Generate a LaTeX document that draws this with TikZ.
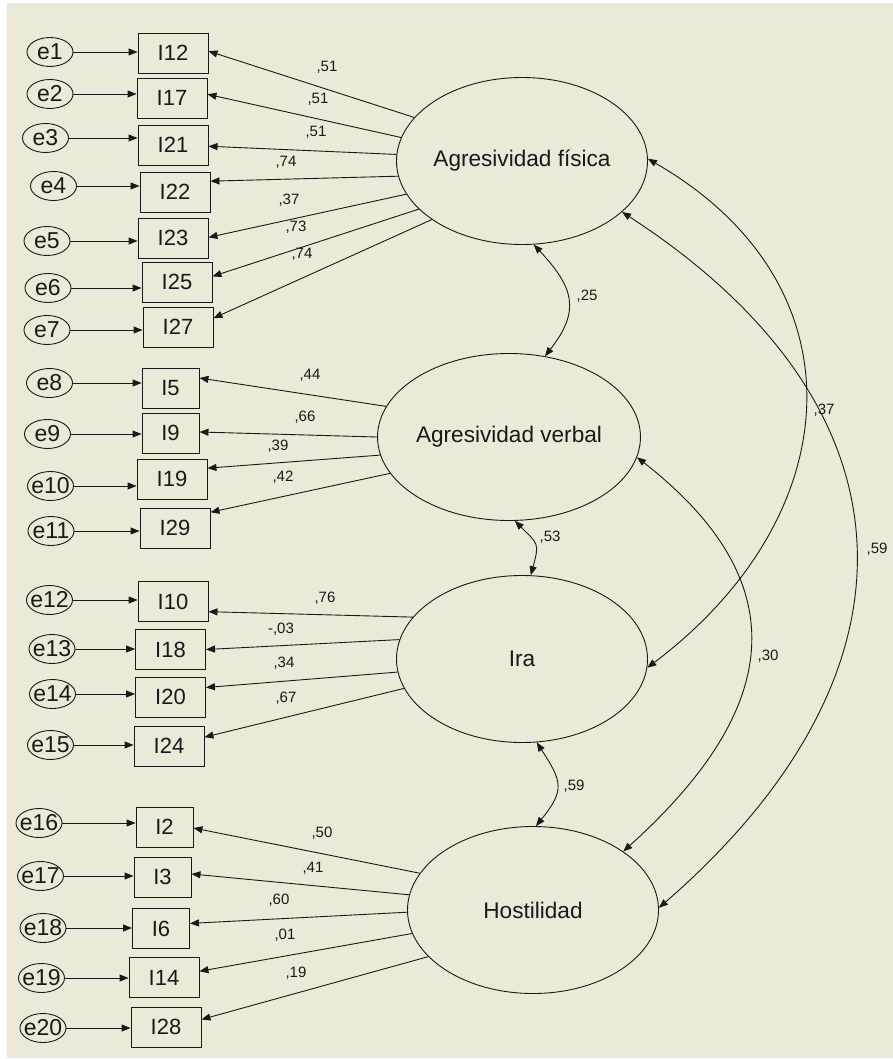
\documentclass[tikz,border=0pt]{standalone}
\usepackage{fontspec}
\setmainfont{Liberation Sans}
\usetikzlibrary{arrows.meta,shapes.geometric}
\definecolor{panel}{RGB}{236,233,216}
\definecolor{ink}{RGB}{25,25,25}

\begin{document}
\begin{tikzpicture}[x=1pt,y=1pt,
  every node/.style={inner sep=0pt,text=ink},
  latent/.style={ellipse,draw=ink,line width=0.9pt,minimum width=251pt,minimum height=167pt,font=\fontsize{22.6}{22.6}\selectfont},
  item/.style={rectangle,draw=ink,line width=0.9pt,minimum height=40pt,font=\fontsize{22}{22}\selectfont},
  wide/.style={item,minimum width=70pt},
  narrow/.style={item,minimum width=57pt},
  err/.style={ellipse,draw=ink,line width=0.9pt,minimum width=46pt,minimum height=29pt,font=\fontsize{23}{23}\selectfont},
  coef/.style={font=\fontsize{15}{15}\selectfont},
  arr/.style={draw=ink,line width=0.9pt,-{Triangle[length=9pt,width=7pt]}},
  cov/.style={draw=ink,line width=0.9pt,{Triangle[length=9pt,width=7pt]}-{Triangle[length=9pt,width=7pt]}},
]
\useasboundingbox (0,0) rectangle (893,-1059);
\fill[white] (0,0) rectangle (893,-1059);
\fill[panel] (7,-3) rectangle (893,-1058);

% latent factors
\node[latent] (AF) at (522,-161) {Agresividad física};
\node[latent] (AV) at (509,-437) {Agresividad verbal};
\node[latent] (Ira) at (522,-659) {Ira};
\node[latent] (Host) at (533,-910) {Hostilidad};

% observed items
\node[wide] (I12) at (173,-53) {I12};
\node[wide] (I17) at (172,-98) {I17};
\node[wide] (I21) at (173,-145) {I21};
\node[wide] (I22) at (175,-192) {I22};
\node[wide] (I23) at (173,-238) {I23};
\node[wide] (I25) at (177,-282) {I25};
\node[wide] (I27) at (178,-327) {I27};
\node[narrow] (I5) at (170.5,-388) {I5};
\node[narrow] (I9) at (170.5,-433) {I9};
\node[wide] (I19) at (172,-479) {I19};
\node[wide] (I29) at (175,-528) {I29};
\node[wide] (I10) at (173,-601.5) {I10};
\node[wide] (I18) at (170.5,-649.5) {I18};
\node[wide] (I20) at (170.5,-697) {I20};
\node[wide] (I24) at (169,-746) {I24};
\node[narrow] (I2) at (164.5,-827) {I2};
\node[narrow] (I3) at (162.5,-877) {I3};
\node[narrow] (I6) at (161,-928.5) {I6};
\node[wide] (I14) at (164,-977.5) {I14};
\node[wide] (I28) at (166,-1027) {I28};

% error terms
\node[err] (e1) at (50,-52) {\makebox[0pt]{e1}};
\node[err] (e2) at (50,-94) {\makebox[0pt]{e2}};
\node[err] (e3) at (45.5,-138) {\makebox[0pt]{e3}};
\node[err] (e4) at (53.5,-186) {\makebox[0pt]{e4}};
\node[err] (e5) at (47,-241) {\makebox[0pt]{e5}};
\node[err] (e6) at (48,-288) {\makebox[0pt]{e6}};
\node[err] (e7) at (47,-330) {\makebox[0pt]{e7}};
\node[err] (e8) at (49.5,-383) {\makebox[0pt]{e8}};
\node[err] (e9) at (47.5,-434) {\makebox[0pt]{e9}};
\node[err] (e10) at (50.5,-486) {\makebox[0pt]{e10}};
\node[err] (e11) at (51,-531) {\makebox[0pt]{e11}};
\node[err] (e12) at (49.5,-600) {\makebox[0pt]{e12}};
\node[err] (e13) at (52,-649) {\makebox[0pt]{e13}};
\node[err] (e14) at (52.5,-694) {\makebox[0pt]{e14}};
\node[err] (e15) at (50.5,-745) {\makebox[0pt]{e15}};
\node[err] (e16) at (39,-823) {\makebox[0pt]{e16}};
\node[err] (e17) at (40.5,-876) {\makebox[0pt]{e17}};
\node[err] (e18) at (43,-928) {\makebox[0pt]{e18}};
\node[err] (e19) at (41.5,-978) {\makebox[0pt]{e19}};
\node[err] (e20) at (43,-1028) {\makebox[0pt]{e20}};

% error -> item
\foreach \e/\i in {e1/I12,e2/I17,e3/I21,e4/I22,e5/I23,e6/I25,e7/I27,
                   e8/I5,e9/I9,e10/I19,e11/I29,
                   e12/I10,e13/I18,e14/I20,e15/I24,
                   e16/I2,e17/I3,e18/I6,e19/I14,e20/I28}
  \draw[arr] (\e.east) -- (\e.east -| \i.west);

% factor loadings
\foreach \f/\a/\i/\b in {AF/158/I12/3.3, AF/169/I17/6.5, AF/177/I21/358, AF/187/I22/17.4,
                         AF/196/I23/1.6, AF/205/I25/9.7, AF/213.5/I27/14.4,
                         AV/166/I5/19.3, AV/180/I9/2, AV/188/I19/17.4, AV/197/I29/24.6,
                         Ira/159/I10/344.8, Ira/171.6/I18/0, Ira/186.4/I20/15.9, Ira/194.8/I24/14.4,
                         Host/162/I2/358, Host/173/I3/6, Host/181/I6/10.9, Host/191/I14/10.5, Host/204.6/I28/12.9}
  \draw[arr] (\f.\a) -- (\i.\b);

% loading estimates
\node[coef] (l1) at (327,-67) {,51};
\node[coef] (l2) at (318,-99) {,51};
\node[coef] (l3) at (316,-132) {,51};
\node[coef] (l4) at (286,-162) {,74};
\node[coef] (l5) at (289,-200) {,37};
\node[coef] (l6) at (296,-227) {,73};
\node[coef] (l7) at (302,-254) {,74};
\node[coef] (l8) at (310,-375) {,44};
\node[coef] (l9) at (305,-417) {,66};
\node[coef] (l10) at (278,-446) {,39};
\node[coef] (l11) at (283,-477) {,42};
\node[coef] (l12) at (325,-598) {,76};
\node[coef] (l13) at (281,-629) {-,03};
\node[coef] (l14) at (284,-663) {,34};
\node[coef] (l15) at (286,-698) {,67};
\node[coef] (l16) at (322,-833) {,50};
\node[coef] (l17) at (313,-868) {,41};
\node[coef] (l18) at (279,-900) {,60};
\node[coef] (l19) at (285,-935) {,01};
\node[coef] (l20) at (296,-973) {,19};

% factor covariances
\draw[cov] (AF.278.6) to[out=-47,in=52,looseness=1.33] (AV.66.8);
\draw[cov] (AV.274) to[out=-45,in=75,looseness=1.5] (Ira.84.8);
\draw[cov] (Ira.280.4) to[out=-57,in=51,looseness=1.42] (Host.88.7);
\draw[cov] (AF.1.4) to[out=-30,in=37,looseness=1.27] (Ira.356.8);
\draw[cov] (AV.351.7) to[out=-38,in=42,looseness=1.35] (Host.33.7);
\draw[cov] (AF.333) to[out=-33,in=41,looseness=1.32] (Host.1);

% covariance estimates
\node[coef] (c1) at (587,-296) {,25};
\node[coef] (c2) at (550,-537) {,53};
\node[coef] (c3) at (574,-786) {,59};
\node[coef] (c4) at (824,-410) {,37};
\node[coef] (c5) at (768,-656) {,30};
\node[coef] (c6) at (877,-549) {,59};
\end{tikzpicture}
\end{document}
